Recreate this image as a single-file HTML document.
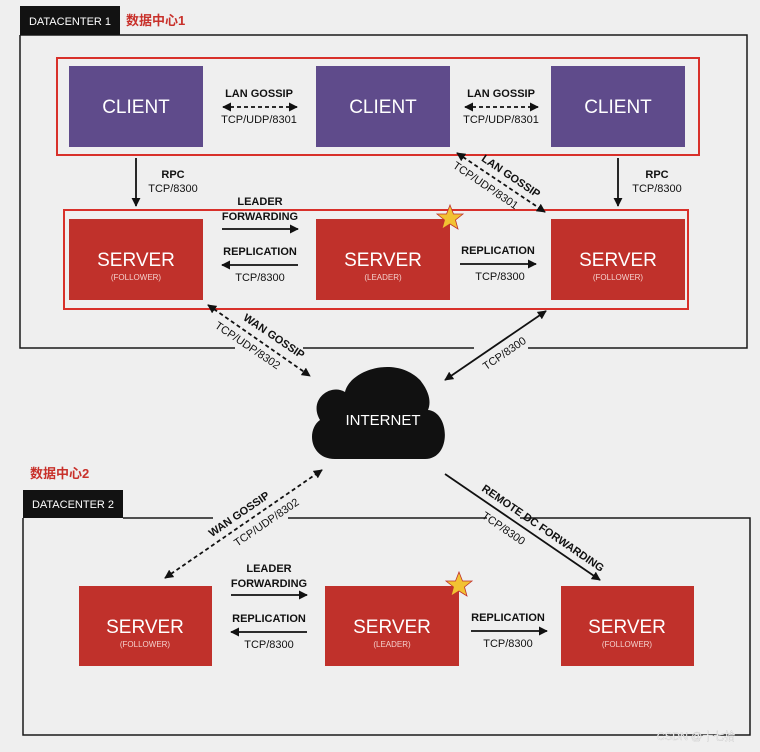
<!DOCTYPE html>
<html><head><meta charset="utf-8"><style>
html,body{margin:0;padding:0;background:#efefef;}
svg{display:block}
text{font-family:"Liberation Sans","Noto Sans CJK SC",sans-serif;}
.b{font-weight:bold;font-size:11px;fill:#111;text-anchor:middle}
.n{font-size:11px;fill:#111;text-anchor:middle}
.big{font-size:19px;fill:#fff;text-anchor:middle}
.sm{font-size:8px;fill:#f4d0cc;text-anchor:middle}
</style></head><body>
<svg width="760" height="752" viewBox="0 0 760 752">
<defs>
<marker id="a" viewBox="0 0 10 10" refX="9" refY="5" markerWidth="5" markerHeight="5" orient="auto-start-reverse"><path d="M0,0L10,5L0,10z" fill="#111"/></marker>
</defs>
<rect width="760" height="752" fill="#efefef"/>
<g stroke="#1a1a1a" stroke-width="1.5" fill="none">
<path d="M20,35H747V348H528M474,348H303M235,348H20V35"/>
<path d="M123,518H213M288,518H487M520,518H750V735H23V518"/>
</g>
<rect x="20" y="6" width="100" height="29" fill="#121212"/>
<text x="70" y="25" font-size="11" fill="#fff" text-anchor="middle">DATACENTER 1</text>
<text x="126" y="25" font-size="13" font-weight="bold" fill="#c8302a" font-family="'Noto Serif CJK SC',serif">数据中心1</text>
<rect x="23" y="490" width="100" height="28" fill="#121212"/>
<text x="73" y="508" font-size="11" fill="#fff" text-anchor="middle">DATACENTER 2</text>
<text x="30" y="478" font-size="13" font-weight="bold" fill="#c8302a" font-family="'Noto Serif CJK SC',serif">数据中心2</text>

<rect x="57" y="58" width="642" height="97" fill="none" stroke="#d8302a" stroke-width="2"/>
<rect x="64" y="210" width="624" height="99" fill="none" stroke="#d8302a" stroke-width="2"/>

<g fill="#5f4b8b">
<rect x="69" y="66" width="134" height="81"/><rect x="316" y="66" width="134" height="81"/><rect x="551" y="66" width="134" height="81"/>
</g>
<text class="big" x="136" y="113">CLIENT</text><text class="big" x="383" y="113">CLIENT</text><text class="big" x="618" y="113">CLIENT</text>

<g fill="#c0312b">
<rect x="69" y="219" width="134" height="81"/><rect x="316" y="219" width="134" height="81"/><rect x="551" y="219" width="134" height="81"/>
<rect x="79" y="586" width="133" height="80"/><rect x="325" y="586" width="134" height="80"/><rect x="561" y="586" width="133" height="80"/>
</g>
<g>
<text class="big" x="136" y="266">SERVER</text><text class="sm" x="136" y="280">(FOLLOWER)</text>
<text class="big" x="383" y="266">SERVER</text><text class="sm" x="383" y="280">(LEADER)</text>
<text class="big" x="618" y="266">SERVER</text><text class="sm" x="618" y="280">(FOLLOWER)</text>
<text class="big" x="145" y="633">SERVER</text><text class="sm" x="145" y="647">(FOLLOWER)</text>
<text class="big" x="392" y="633">SERVER</text><text class="sm" x="392" y="647">(LEADER)</text>
<text class="big" x="627" y="633">SERVER</text><text class="sm" x="627" y="647">(FOLLOWER)</text>
</g>
<g fill="#f2c232" stroke="#c0312b" stroke-width="0.8">
<polygon points="450,205 453.5,214 463,214 455.5,220 458,229 450,224 442,229 444.5,220 437,214 446.5,214"/>
<polygon points="459,572 462.5,581 472,581 464.5,587 467,596 459,591 451,596 453.5,587 446,581 455.5,581"/>
</g>

<g stroke="#111" stroke-width="1.8" fill="none">
<path d="M223,107H297" stroke-dasharray="4,3" marker-start="url(#a)" marker-end="url(#a)"/>
<path d="M465,107H538" stroke-dasharray="4,3" marker-start="url(#a)" marker-end="url(#a)"/>
<path d="M136,158V206" marker-end="url(#a)"/>
<path d="M618,158V206" marker-end="url(#a)"/>
<path d="M222,229H298" marker-end="url(#a)"/>
<path d="M298,265H222" marker-end="url(#a)"/>
<path d="M460,264H536" marker-end="url(#a)"/>
<path d="M457,153L545,212" stroke-dasharray="4,3" marker-start="url(#a)" marker-end="url(#a)"/>
<path d="M208,305L310,376" stroke-dasharray="4,3" marker-start="url(#a)" marker-end="url(#a)"/>
<path d="M445,380L546,311" marker-start="url(#a)" marker-end="url(#a)"/>
<path d="M165,578L322,470" stroke-dasharray="4,3" marker-start="url(#a)" marker-end="url(#a)"/>
<path d="M445,474L600,580" marker-end="url(#a)"/>
<path d="M231,595H307" marker-end="url(#a)"/>
<path d="M307,632H231" marker-end="url(#a)"/>
<path d="M471,631H547" marker-end="url(#a)"/>
</g>
<text class="b" x="259" y="97">LAN GOSSIP</text><text class="n" x="259" y="123">TCP/UDP/8301</text>
<text class="b" x="501" y="97">LAN GOSSIP</text><text class="n" x="501" y="123">TCP/UDP/8301</text>
<text class="b" x="173" y="178">RPC</text><text class="n" x="173" y="192">TCP/8300</text>
<text class="b" x="657" y="178">RPC</text><text class="n" x="657" y="192">TCP/8300</text>
<text class="b" x="260" y="205">LEADER</text><text class="b" x="260" y="220">FORWARDING</text>
<text class="b" x="260" y="255">REPLICATION</text><text class="n" x="260" y="281">TCP/8300</text>
<text class="b" x="498" y="254">REPLICATION</text><text class="n" x="500" y="280">TCP/8300</text>
<text class="b" x="269" y="572">LEADER</text><text class="b" x="269" y="587">FORWARDING</text>
<text class="b" x="269" y="622">REPLICATION</text><text class="n" x="269" y="648">TCP/8300</text>
<text class="b" x="508" y="621">REPLICATION</text><text class="n" x="508" y="647">TCP/8300</text>

<g transform="translate(505,185) rotate(34)"><text class="b" y="-7">LAN GOSSIP</text></g>
<g transform="translate(492,176) rotate(34)"><text class="n" y="15">TCP/UDP/8301</text></g>
<g transform="translate(268,345) rotate(34)"><text class="b" y="-7">WAN GOSSIP</text></g>
<g transform="translate(254,336) rotate(34)"><text class="n" y="15">TCP/UDP/8302</text></g>
<g transform="translate(498,344) rotate(-34.3)"><text class="n" y="15">TCP/8300</text></g>
<g transform="translate(245,523) rotate(-34.5)"><text class="b" y="-7">WAN GOSSIP</text></g>
<g transform="translate(260,513) rotate(-34.5)"><text class="n" y="15">TCP/UDP/8302</text></g>
<g transform="translate(537,537) rotate(34.4)"><text class="b" y="-7">REMOTE DC FORWARDING</text></g>
<g transform="translate(510,519) rotate(34.4)"><text class="n" y="15">TCP/8300</text></g>

<path d="M335,459 C310,459 306,430 320,420 C308,400 330,383 345,392 C350,370 395,355 420,380 C432,395 430,405 428,410 C450,412 452,459 425,459 Z" fill="#111"/>
<text x="383" y="425" font-size="15" fill="#fff" text-anchor="middle">INTERNET</text>

<text x="696" y="740" font-size="11" fill="#fff" stroke="#bbb" stroke-width="0.3" text-anchor="middle">CSDN @十七拾</text>
</svg>
</body></html>
